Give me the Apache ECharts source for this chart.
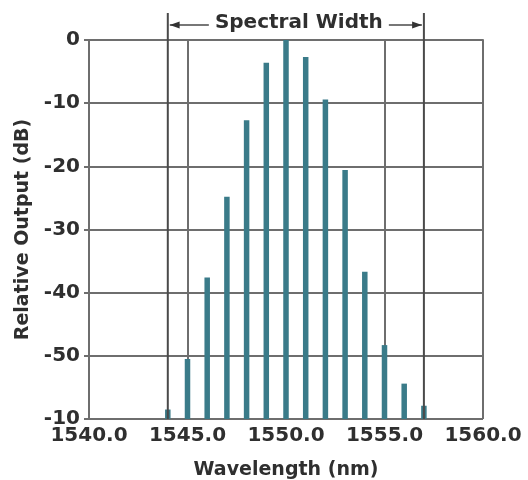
<!DOCTYPE html>
<html>
<head>
<meta charset="utf-8">
<script src="https://cdn.jsdelivr.net/npm/echarts@6/dist/echarts.min.js"></script>
<style>
  html, body { margin: 0; padding: 0; background: #ffffff; }
  #chart { width: 528px; height: 480px; }
</style>
</head>
<body>
<div id="chart"></div>
<script>
// Longitudinal modes of the laser spectrum (wavelength in nm, relative output in dB)
const wavelengths = [1544, 1545, 1546, 1547, 1548, 1549, 1550, 1551, 1552, 1553, 1554, 1555, 1556, 1557];
const outputDb = [-58.5, -50.5, -37.6, -24.8, -12.7, -3.6, 0, -2.7, -9.4, -20.6, -36.7, -48.3, -54.4, -57.9];

// Span marked as the spectral width
const spectralWidth = [1544, 1557];

// Axis tick labels as printed on the chart
const yTickValues = [-60, -50, -40, -30, -20, -10, 0];
const yTickLabels = ['-10', '-50', '-40', '-30', '-20', '-10', '0'];
const xTickValues = [1540, 1545, 1550, 1555, 1560];
const xTickLabels = ['1540.0', '1545.0', '1550.0', '1555.0', '1560.0'];

const Y_MIN = -60, Y_MAX = 0;
const FONT = 'DejaVu Sans';
const TEXT = '#2f2f2f';
const GRID = '#6e6e6e';
const BAR = '#3a7b89';

const chart = echarts.init(document.getElementById('chart'), null, { renderer: 'canvas' });

const modeData = wavelengths.map((w, i) => [w, outputDb[i]]);

chart.setOption({
  animation: false,
  backgroundColor: '#ffffff',
  grid: { left: 89, right: 45, top: 40, bottom: 61, outerBoundsMode: 'none', containLabel: false },
  xAxis: {
    type: 'value',
    min: 1540, max: 1560, interval: 5,
    name: 'Wavelength (nm)',
    nameLocation: 'middle',
    nameGap: 42,
    nameTextStyle: { fontFamily: FONT, fontWeight: 'bold', fontSize: 19, color: TEXT },
    axisLine: { show: true, lineStyle: { color: GRID, width: 2 } },
    axisTick: { show: true, length: 4, lineStyle: { color: GRID, width: 2 } },
    axisLabel: {
      margin: 7,
      fontFamily: FONT, fontWeight: 'bold', fontSize: 20, color: TEXT,
      formatter: v => { const k = xTickValues.indexOf(v); return k >= 0 ? xTickLabels[k] : ''; }
    },
    splitLine: { show: true, lineStyle: { color: GRID, width: 2 } }
  },
  yAxis: {
    type: 'value',
    min: Y_MIN, max: Y_MAX, interval: 10,
    name: 'Relative Output (dB)',
    nameLocation: 'middle',
    nameGap: 55,
    nameTextStyle: { fontFamily: FONT, fontWeight: 'bold', fontSize: 19, color: TEXT },
    axisLine: { show: true, lineStyle: { color: GRID, width: 2 } },
    axisTick: { show: true, length: 5, lineStyle: { color: GRID, width: 2 } },
    axisLabel: {
      margin: 9,
      fontFamily: FONT, fontWeight: 'bold', fontSize: 20, color: TEXT,
      formatter: v => { const k = yTickValues.indexOf(v); return k >= 0 ? yTickLabels[k] : ''; }
    },
    splitLine: { show: true, lineStyle: { color: GRID, width: 2 } }
  },
  series: [
    {
      // Each mode drawn as a narrow bar rising from the bottom of the scale
      type: 'custom',
      data: modeData,
      z: 3,
      renderItem: (params, api) => {
        const top = api.coord([api.value(0), api.value(1)]);
        const base = api.coord([api.value(0), Y_MIN]);
        const w = 5.5;
        return {
          type: 'rect',
          shape: { x: top[0] - w / 2, y: top[1], width: w, height: base[1] - top[1] },
          style: { fill: BAR }
        };
      }
    },
    {
      // Spectral width bracket: two vertical limits with arrows and caption
      type: 'custom',
      data: [spectralWidth],
      clip: false,
      silent: true,
      z: 4,
      renderItem: (params, api) => {
        const l = api.coord([api.value(0), Y_MIN]);
        const r = api.coord([api.value(1), Y_MIN]);
        const topL = api.coord([api.value(0), Y_MAX]);
        const yTop = topL[1] - 27;
        const yArrow = topL[1] - 15;
        const mid = (l[0] + r[0]) / 2 + 3;
        const half = 90;
        const lineStyle = { stroke: '#4a4a4a', lineWidth: 2 };
        const head = 7;
        return {
          type: 'group',
          children: [
            { type: 'line', shape: { x1: l[0], y1: yTop, x2: l[0], y2: l[1] }, style: lineStyle },
            { type: 'line', shape: { x1: r[0], y1: yTop, x2: r[0], y2: r[1] }, style: lineStyle },
            { type: 'line', shape: { x1: l[0] + 2, y1: yArrow, x2: mid - half, y2: yArrow }, style: { stroke: '#4a4a4a', lineWidth: 1.5 } },
            { type: 'line', shape: { x1: mid + half, y1: yArrow, x2: r[0] - 2, y2: yArrow }, style: { stroke: '#4a4a4a', lineWidth: 1.5 } },
            { type: 'polygon', shape: { points: [[l[0] + 2, yArrow], [l[0] + 2 + head * 1.4, yArrow - 3.5], [l[0] + 2 + head * 1.4, yArrow + 3.5]] }, style: { fill: '#333' } },
            { type: 'polygon', shape: { points: [[r[0] - 2, yArrow], [r[0] - 2 - head * 1.4, yArrow - 3.5], [r[0] - 2 - head * 1.4, yArrow + 3.5]] }, style: { fill: '#333' } },
            {
              type: 'text',
              style: {
                x: mid, y: yArrow - 2,
                text: 'Spectral Width',
                fill: TEXT,
                font: 'bold 20px "' + FONT + '"',
                align: 'center', verticalAlign: 'middle'
              }
            }
          ]
        };
      }
    }
  ]
});
</script>
</body>
</html>
